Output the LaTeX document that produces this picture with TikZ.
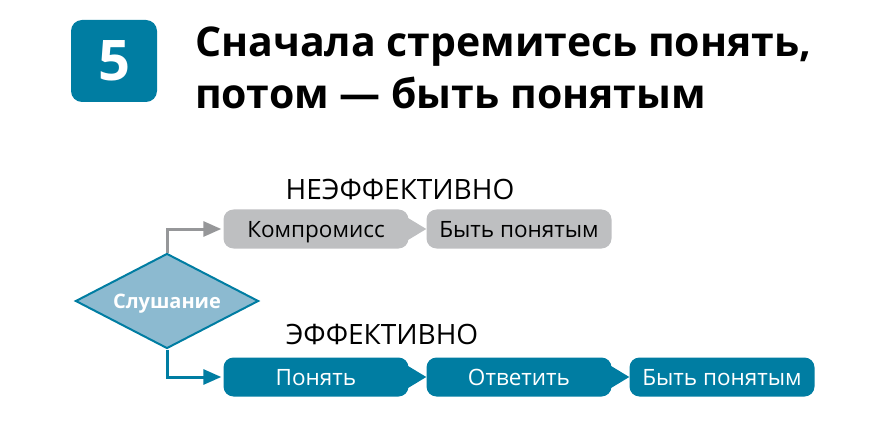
\documentclass[tikz,border=0pt]{standalone}
\usepackage{fontspec}
\setmainfont{Open Sans}
\usepackage{tikz}
\usetikzlibrary{arrows.meta,shapes.geometric}
\definecolor{tealc}{RGB}{0,125,162}
\definecolor{lightblu}{RGB}{140,186,208}
\definecolor{grayc}{RGB}{190,191,193}
\definecolor{grayarr}{RGB}{150,151,153}
\tikzset{
  box/.style = {rectangle, rounded corners=10pt, minimum width=185pt,
    minimum height=39pt, inner sep=0pt, text height=16pt, text depth=0pt,
    font=\fontsize{22.5}{26}\selectfont},
  box_g/.style = {box, fill=grayc, text=black},% gray step
  box_t/.style = {box, fill=tealc, text=white},% teal step
  badge/.style = {rectangle, rounded corners=11pt, fill=tealc, text=white,
    minimum width=86pt, minimum height=82pt, font=\fontsize{56}{60}\selectfont\bfseries},
  ttl/.style = {anchor=west, inner sep=0pt, font=\fontsize{41}{46}\selectfont\bfseries},
  lbl/.style = {inner sep=0pt, font=\fontsize{28}{30}\selectfont},
  decision/.style = {diamond, aspect=1.9, fill=lightblu, draw=tealc, line width=2pt,
    minimum width=183pt, minimum height=95pt, inner sep=0pt, text=white,
    text height=14pt, text depth=0pt, font=\fontsize{20}{23}\selectfont\bfseries},
}

\begin{document}
\begin{tikzpicture}[x=1pt,y=-1pt]
  \useasboundingbox (0,0) rectangle (875,422);

  \node[badge] (five) at (114,61) {5};
  \node[ttl] (line1) at (195,47) {Сначала стремитесь понять,};
  \node[ttl] (line2) at (195,93) {потом — быть понятым};

  \node[decision] (listen) at (167,301) {Слушание};

  %   not effective
  \node[lbl] (neff) at (400,189) {НЕЭФФЕКТИВНО};
  \node[box_g] (komp) at (316,229) {Компромисс};
  \node[box_g] (bytg) at (519,229) {Быть понятым};

  %   effective
  \node[lbl] (eff) at (382,334) {ЭФФЕКТИВНО};
  \node[box_t] (pon) at (316,377) {Понять};
  \node[box_t] (otv) at (519,377) {Ответить};
  \node[box_t] (bytt) at (722,377) {Быть понятым};

  \coordinate (up) at (listen.north |- komp.west);
  \coordinate (dn) at (listen.south |- pon.west);
  \draw[grayarr, line width=3pt, -{Triangle[length=18pt,width=15pt]}]
    (listen.north) -- (up) -- ([xshift=-2pt]komp.west);
  \draw[tealc, line width=3pt, -{Triangle[length=18pt,width=15pt]}]
    (listen.south) -- (dn) -- ([xshift=-2pt]pon.west);

  \fill[grayc] ([xshift=-4pt,yshift=13pt]komp.east) -- (bytg.west)
    -- ([xshift=-4pt,yshift=-13pt]komp.east) -- cycle;
  \fill[tealc] ([xshift=-4pt,yshift=13pt]pon.east) -- (otv.west)
    -- ([xshift=-4pt,yshift=-13pt]pon.east) -- cycle;
  \fill[tealc] ([xshift=-4pt,yshift=13pt]otv.east) -- (bytt.west)
    -- ([xshift=-4pt,yshift=-13pt]otv.east) -- cycle;
\end{tikzpicture}
\end{document}
